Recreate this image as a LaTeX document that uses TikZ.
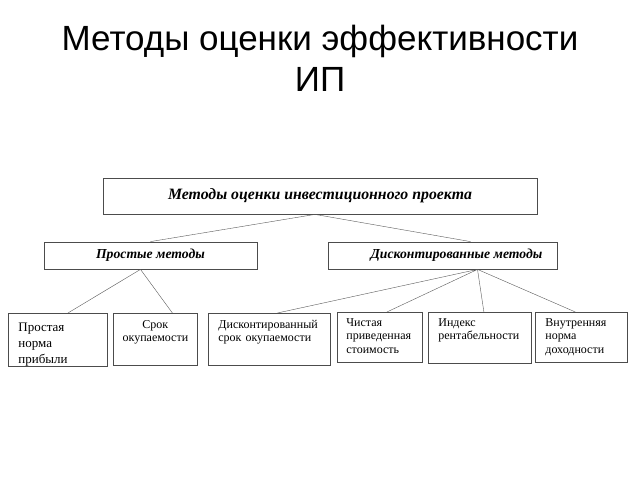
\documentclass[tikz,border=0pt]{standalone}
\usepackage{fontspec}
\setmainfont{Liberation Serif}
\newfontfamily\headfont{Liberation Sans}
\usetikzlibrary{positioning}

\begin{document}
\begin{tikzpicture}[x=1pt,y=-1pt,
        box/.style={draw=black!70,thick,rectangle,inner sep=0pt},
        head/.style={font=\bfseries\itshape\fontsize{13.7}{15}\selectfont},
        cell/.style={draw=black!70,thick,rectangle,anchor=north west,
            inner xsep=10pt,inner ysep=4pt,align=left,text height=11pt,
            font=\fontsize{12}{13.5}\selectfont},
        link/.style={draw=black!65,thin}
        ]
    \useasboundingbox (0,0) rectangle (640,480);

    % Ueberschrift
    \node[font=\headfont\fontsize{35}{41}\selectfont,align=center,anchor=north] (title) at (320,22)
        {Методы оценки эффективности\\ИП};

    % Ebene 1
    \node[box,minimum width=434,minimum height=36,font=\bfseries\itshape\fontsize{15.8}{18}\selectfont]
        (root) at (320,196) {Методы оценки инвестиционного проекта};

    % Ebene 2
    \node[box,head,minimum width=213,minimum height=27] (simple) at (150.5,255.5) {Простые методы};
    \node[box,head,minimum width=229,minimum height=27] (disc) at (442.5,255.5) {\hspace*{28pt}Дисконтированные методы};

    % Ebene 3
    \node[cell,text width=79,text height=14pt,text depth=31pt,
        font=\fontsize{13}{16}\selectfont] (pp) at (8,313) {Простая\\норма\\прибыли};
    \node[cell,text width=72,text depth=33pt,inner xsep=6pt,align=center] (pb) at (113,313) {Срок\\окупаемости};
    \node[cell,text width=102,text depth=33pt] (dpb) at (208,313) {Дисконтированный\\срок окупаемости};
    \node[cell,text width=67,inner xsep=9pt,text height=10pt,text depth=32pt] (npv) at (337,312) {Чистая\\приведенная\\стоимость};
    \node[cell,text width=83,text height=10pt,text depth=33pt] (pi) at (428,312) {Индекс\\рентабельности};
    \node[cell,text width=72,text height=10pt,text depth=32pt] (irr) at (535,312) {Внутренняя\\норма\\доходности};

    % Verbindungen
    \coordinate (r1) at ([xshift=-5pt]root.south);
    \coordinate (s1) at ([xshift=-10pt]simple.south);
    \coordinate (d1) at ([xshift=35pt]disc.south);
    \draw[link] (r1) -- (simple.north)
                (r1) -- ([xshift=28pt]disc.north);
    \draw[link] (s1) -- ([xshift=10pt]pp.north)
                (s1) -- ([xshift=17pt]pb.north);
    \draw[link] (d1) -- ([xshift=8pt]dpb.north)
                (d1) -- ([xshift=7pt]npv.north)
                (d1) -- ([xshift=4pt]pi.north)
                (d1) -- ([xshift=-6pt]irr.north);
\end{tikzpicture}
\end{document}
